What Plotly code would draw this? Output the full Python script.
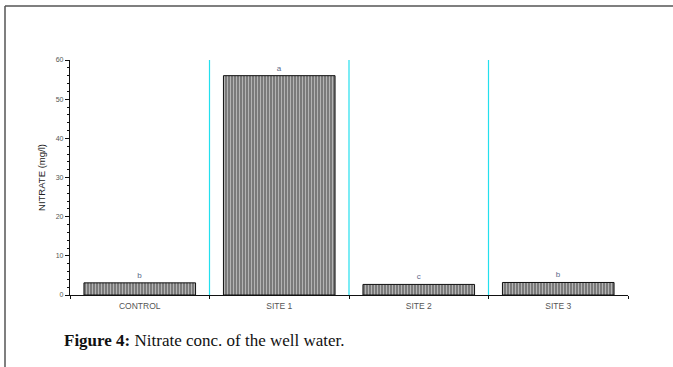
import plotly.graph_objects as go

categories = ["CONTROL", "SITE 1", "SITE 2", "SITE 3"]
nitrate = [3.1, 56.0, 2.7, 3.2]
letters = ["b", "a", "c", "b"]
y_ticks = [0, 10, 20, 30, 40, 50, 60]

W, H = 673, 367
ML, MR, MT, MB = 70, 45, 60, 72
pw = W - ML - MR
ph = H - MT - MB

def px_x(px):
    return (px - ML) / pw

def px_y(py):
    return (H - MB - py) / ph

xs = list(range(len(categories)))

fig = go.Figure()
fig.add_trace(go.Bar(
    x=xs, y=nitrate, width=0.8,
    text=letters, textposition="outside", cliponaxis=False,
    textfont=dict(family="Liberation Sans, Arial", size=8, color="#5a6a8a"),
    marker=dict(
        color="#7d7d7d",
        line=dict(color="#111111", width=1),
        pattern=dict(shape="|", size=3, solidity=0.35, fgcolor="#eeeeee", bgcolor="#7a7a7a"),
    ),
    showlegend=False,
))

for sep in [0.5, 1.5, 2.5]:
    fig.add_shape(type="line", xref="x", yref="paper", x0=sep, x1=sep, y0=0, y1=1,
                  line=dict(color="#22e0ee", width=1.2), layer="below")

# outer page borders
fig.add_shape(type="line", xref="paper", yref="paper",
              x0=px_x(5), x1=px_x(5), y0=px_y(6), y1=px_y(370),
              line=dict(color="#555555", width=1.5))
fig.add_shape(type="line", xref="paper", yref="paper",
              x0=px_x(5), x1=px_x(680), y0=px_y(6), y1=px_y(6),
              line=dict(color="#555555", width=1.5))

fig.add_annotation(
    xref="paper", yref="paper", x=px_x(62), y=px_y(340), xanchor="left", yanchor="middle",
    text="<b>Figure 4:</b> Nitrate conc. of the well water.", showarrow=False,
    font=dict(family="Liberation Serif, DejaVu Serif, serif", size=17, color="#111111"),
)

fig.update_layout(
    width=W, height=H,
    margin=dict(l=ML, r=MR, t=MT, b=MB),
    paper_bgcolor="white", plot_bgcolor="white",
    bargap=0.2,
    xaxis=dict(
        range=[-0.5, 3.5], tickmode="array", tickvals=xs, ticktext=categories,
        ticks="", showline=True, linecolor="#111111", linewidth=1.2,
        showgrid=False, zeroline=False, ticklabelstandoff=3,
        tickfont=dict(family="Liberation Sans, Arial", size=8.5, color="#555555"),
        minor=dict(tick0=0.5, dtick=1, ticks="outside", ticklen=3, tickcolor="#111111", showgrid=False),
    ),
    yaxis=dict(
        range=[0, 60], tickmode="array", tickvals=y_ticks,
        ticks="outside", ticklen=4, tickcolor="#111111",
        showline=True, linecolor="#111111", linewidth=1.2,
        showgrid=False, zeroline=False,
        tickfont=dict(family="Liberation Sans, Arial", size=7, color="#555555"),
        minor=dict(dtick=2, ticks="outside", ticklen=2, tickcolor="#111111", showgrid=False),
        title=dict(text="NITRATE (mg/l)", standoff=8,
                   font=dict(family="Liberation Sans, Arial", size=9.5, color="#222222")),
    ),
)

fig.write_html("out.html", config={"displayModeBar": False},
               post_script="document.body.style.margin='0';")
